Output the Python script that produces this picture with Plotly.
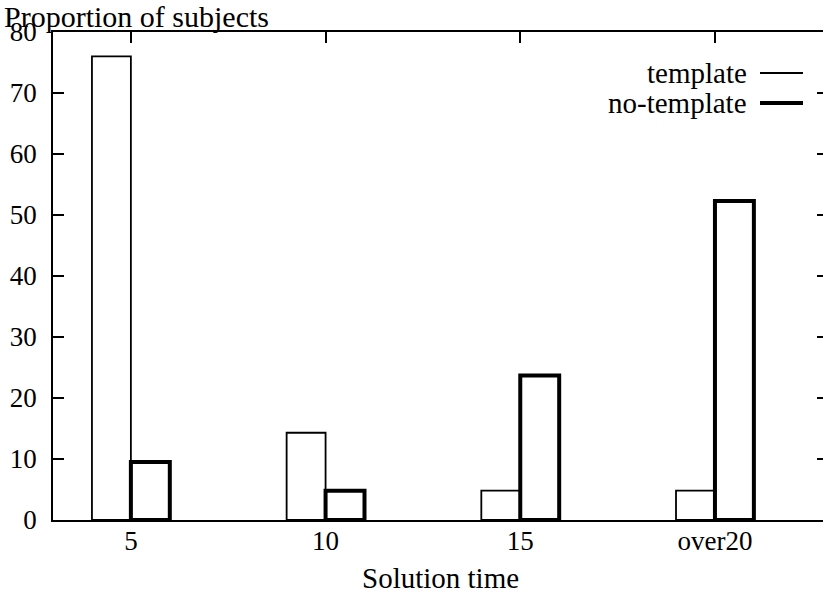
import plotly.graph_objects as go

categories = ["5", "10", "15", "over20"]
template = [76, 14.3, 4.8, 4.8]
no_template = [9.5, 4.8, 23.7, 52.3]
y_ticks = [0, 10, 20, 30, 40, 50, 60, 70, 80]

FONT = "Liberation Serif"
TICK_SIZE = 27
WORD_SIZE = 29
W, H = 823, 596
L, T, B, R = 53, 32, 76, 0

def px_x(px):
    return (px - L) / (W - L - R)

def px_y(py):
    return (H - B - py) / (H - T - B)

fig = go.Figure()
fig.add_trace(go.Bar(
    x=categories, y=template, name="template",
    width=0.2, offset=-0.2,
    marker=dict(color="white", line=dict(color="black", width=1.8)),
    showlegend=False,
))
fig.add_trace(go.Bar(
    x=categories, y=no_template, name="no-template",
    width=0.2, offset=0.0,
    marker=dict(color="white", line=dict(color="black", width=4)),
    showlegend=False,
))
# invisible trace to anchor the right-hand (mirrored) tick axis
fig.add_trace(go.Scatter(
    x=categories, y=template, yaxis="y2", mode="markers",
    marker=dict(opacity=0), hoverinfo="skip", showlegend=False,
))

fig.update_layout(
    width=W, height=H,
    margin=dict(l=L, r=R, t=T, b=B),
    paper_bgcolor="white", plot_bgcolor="white",
    font=dict(family=FONT, size=TICK_SIZE, color="black"),
    barmode="overlay",
    title=dict(text="Proportion of subjects", x=4 / W, xref="container", xanchor="left",
               y=1 - 16 / H, yref="container", yanchor="middle",
               font=dict(family=FONT, size=WORD_SIZE + 1, color="black")),
    xaxis=dict(
        type="category", categoryorder="array", categoryarray=categories,
        range=[-0.4, 3.555],
        showline=True, linecolor="black", linewidth=1.8, mirror="ticks",
        ticks="inside", ticklen=11, tickwidth=1.8, tickcolor="black",
        showgrid=False, zeroline=False, ticklabelstandoff=-4,
        tickfont=dict(family=FONT, size=TICK_SIZE, color="black"),
    ),
    yaxis=dict(
        range=[0, 80], tickvals=y_ticks, ticktext=[str(v) for v in y_ticks],
        showline=True, linecolor="black", linewidth=1.8, mirror=False,
        ticks="inside", ticklen=11, tickwidth=1.8, tickcolor="black",
        showgrid=False, zeroline=False, ticklabelstandoff=9,
        tickfont=dict(family=FONT, size=TICK_SIZE, color="black"),
    ),
    yaxis2=dict(
        overlaying="y", side="right", range=[0, 80], tickvals=y_ticks,
        showticklabels=False, showline=False, showgrid=False, zeroline=False,
        ticks="inside", ticklen=6, tickwidth=1.8, tickcolor="black",
    ),
    showlegend=False,
)

fig.add_annotation(text="Solution time", xref="paper", yref="paper",
                   x=px_x(441), y=px_y(578), xanchor="center", yanchor="middle",
                   showarrow=False, font=dict(family=FONT, size=WORD_SIZE, color="black"))

# gnuplot-style key
legend_items = [("template", 73, 1.8), ("no-template", 103, 4)]
for label, py, lw in legend_items:
    fig.add_annotation(text=label, xref="paper", yref="paper",
                       x=px_x(749), y=px_y(py), xanchor="right", yanchor="middle",
                       showarrow=False, font=dict(family=FONT, size=WORD_SIZE, color="black"))
    fig.add_shape(type="line", xref="paper", yref="paper",
                  x0=px_x(760), x1=px_x(803), y0=px_y(py), y1=px_y(py),
                  line=dict(color="black", width=lw))

fig.write_html("out.html", config={"displayModeBar": False},
               post_script="document.body.style.margin='0';")
